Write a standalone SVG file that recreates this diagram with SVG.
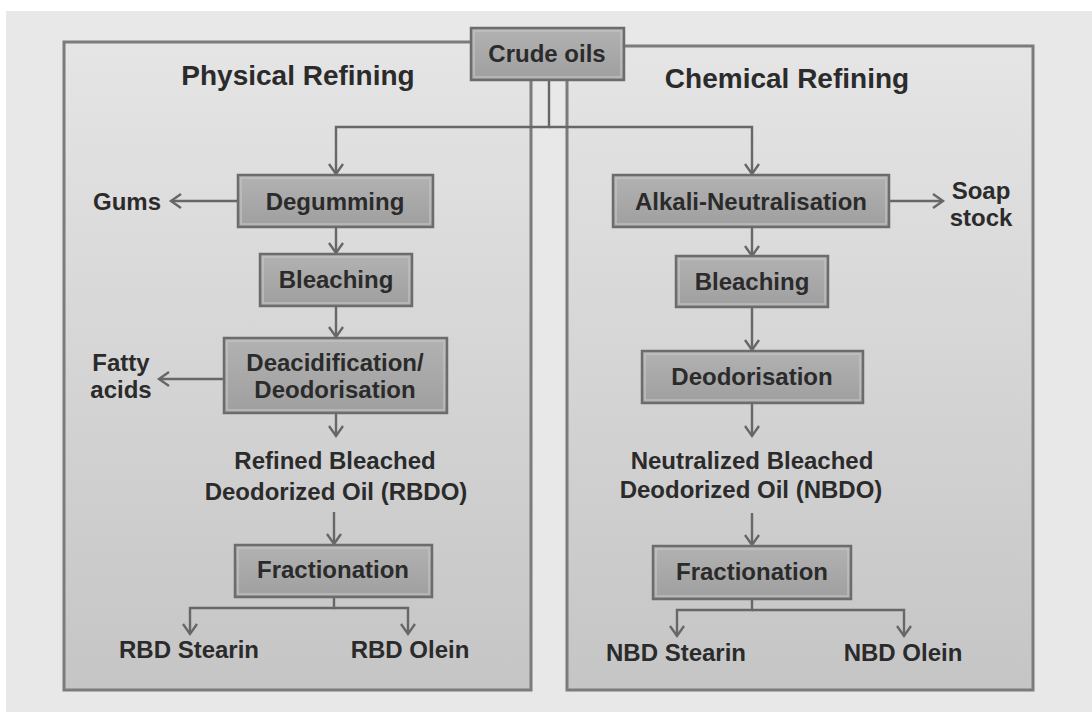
<svg xmlns="http://www.w3.org/2000/svg" width="1092" height="712" viewBox="0 0 1092 712">
<defs>
<linearGradient id="panelG" x1="0" y1="0" x2="0" y2="1">
<stop offset="0" stop-color="#e5e5e6"/>
<stop offset="1" stop-color="#c5c5c6"/>
</linearGradient>
<linearGradient id="boxG" x1="0" y1="0" x2="0" y2="1">
<stop offset="0" stop-color="#b2b2b2"/>
<stop offset="1" stop-color="#9f9f9f"/>
</linearGradient>
<marker id="arr" markerUnits="userSpaceOnUse" markerWidth="20" markerHeight="20" viewBox="-12 -10 14 20" refX="0" refY="0" orient="auto">
<path d="M-10,-7 L0,0 L-10,7" fill="none" stroke="#676767" stroke-width="2.4" stroke-linejoin="miter"/>
</marker>
</defs>
<style>
.panel{fill:url(#panelG);stroke:#7b7b7b;stroke-width:3}
.box{fill:url(#boxG);stroke:#6c6c6c;stroke-width:2.5}
.bev{fill:none;stroke:#c4c4c4;stroke-width:1.5;opacity:0.8}
.t{font-family:"Liberation Sans",Arial,sans-serif;font-weight:bold;font-size:24px;fill:#2b2b2b;text-anchor:middle}
.title{font-size:28px}
.c{fill:none;stroke:#676767;stroke-width:2.4}
.ca{fill:none;stroke:#676767;stroke-width:2.4;marker-end:url(#arr)}
</style>
<rect x="0" y="0" width="1092" height="712" fill="#ffffff"/>
<rect x="6" y="11" width="1086" height="701" fill="#e8e8e9"/>

<g id="panel-physical">
<rect class="panel" x="64" y="42" width="467" height="648"/>
<text class="t title" x="298" y="85">Physical Refining</text>
</g>
<g id="panel-chemical">
<rect class="panel" x="567" y="46" width="466" height="644"/>
<text class="t title" x="787" y="88">Chemical Refining</text>
</g>

<g id="connectors">
<path class="ca" d="M549 80 V127 H336 V174"/>
<path class="ca" d="M549 127 H752 V174"/>
<path class="ca" d="M238 201 H171"/>
<path class="ca" d="M336 227 V253"/>
<path class="ca" d="M336 306 V337"/>
<path class="ca" d="M224 379 H159"/>
<path class="ca" d="M336 413 V436"/>
<path class="ca" d="M334 512 V544"/>
<path class="ca" d="M334 597 V608 H190 V634"/>
<path class="ca" d="M334 608 H408 V634"/>
<path class="ca" d="M889 201 H943"/>
<path class="ca" d="M752 227 V256"/>
<path class="ca" d="M752 307 V350"/>
<path class="ca" d="M752 403 V436"/>
<path class="ca" d="M752 513 V545"/>
<path class="ca" d="M752 599 V610 H677 V636"/>
<path class="ca" d="M752 610 H904 V636"/>
</g>

<g id="crude-oils">
<rect class="box" x="471" y="28" width="153" height="52"/>
<rect class="bev" x="474" y="31" width="147" height="46"/>
<text class="t" x="547" y="62">Crude oils</text>
</g>

<g id="degumming">
<rect class="box" x="238" y="175" width="195" height="52"/>
<rect class="bev" x="241" y="178" width="189" height="46"/>
<text class="t" x="335" y="210">Degumming</text>
</g>
<g id="gums"><text class="t" x="127" y="210">Gums</text></g>

<g id="bleaching-physical">
<rect class="box" x="260" y="254" width="152" height="52"/>
<rect class="bev" x="263" y="257" width="146" height="46"/>
<text class="t" x="336" y="288">Bleaching</text>
</g>

<g id="deacidification">
<rect class="box" x="224" y="338" width="223" height="75"/>
<rect class="bev" x="227" y="341" width="217" height="69"/>
<text class="t" x="335" y="371">Deacidification/</text>
<text class="t" x="335" y="398">Deodorisation</text>
</g>
<g id="fatty-acids">
<text class="t" x="121" y="371">Fatty</text>
<text class="t" x="121" y="398">acids</text>
</g>

<g id="rbdo">
<text class="t" x="335" y="469">Refined Bleached</text>
<text class="t" x="336" y="500">Deodorized Oil (RBDO)</text>
</g>

<g id="fractionation-physical">
<rect class="box" x="235" y="545" width="197" height="52"/>
<rect class="bev" x="238" y="548" width="191" height="46"/>
<text class="t" x="333" y="578">Fractionation</text>
</g>
<g id="rbd-stearin"><text class="t" x="189" y="658">RBD Stearin</text></g>
<g id="rbd-olein"><text class="t" x="410" y="658">RBD Olein</text></g>

<g id="alkali-neutralisation">
<rect class="box" x="613" y="175" width="276" height="52"/>
<rect class="bev" x="616" y="178" width="270" height="46"/>
<text class="t" x="751" y="210">Alkali-Neutralisation</text>
</g>
<g id="soap-stock">
<text class="t" x="981" y="199">Soap</text>
<text class="t" x="981" y="226">stock</text>
</g>

<g id="bleaching-chemical">
<rect class="box" x="676" y="256" width="152" height="51"/>
<rect class="bev" x="679" y="259" width="146" height="45"/>
<text class="t" x="752" y="290">Bleaching</text>
</g>

<g id="deodorisation">
<rect class="box" x="642" y="351" width="221" height="52"/>
<rect class="bev" x="645" y="354" width="215" height="46"/>
<text class="t" x="752" y="385">Deodorisation</text>
</g>

<g id="nbdo">
<text class="t" x="752" y="469">Neutralized Bleached</text>
<text class="t" x="751" y="498">Deodorized Oil (NBDO)</text>
</g>

<g id="fractionation-chemical">
<rect class="box" x="653" y="546" width="198" height="53"/>
<rect class="bev" x="656" y="549" width="192" height="47"/>
<text class="t" x="752" y="580">Fractionation</text>
</g>
<g id="nbd-stearin"><text class="t" x="676" y="661">NBD Stearin</text></g>
<g id="nbd-olein"><text class="t" x="903" y="661">NBD Olein</text></g>
</svg>
